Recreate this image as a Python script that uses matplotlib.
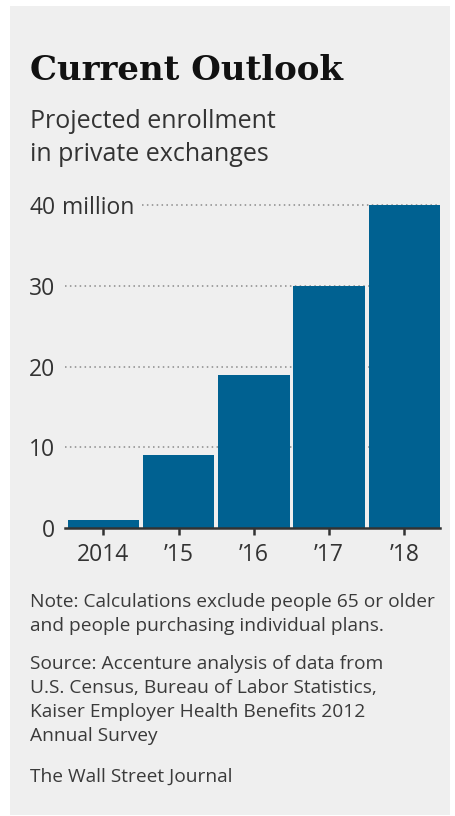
import matplotlib
matplotlib.use("Agg")
import matplotlib.pyplot as plt
from matplotlib.patches import Rectangle

# Chart data
years = ["2014", "\u201915", "\u201916", "\u201917", "\u201918"]
enrollment = [1, 9, 19, 30, 40]  # millions
y_ticks = [0, 10, 20, 30, 40]
y_tick_labels = ["0", "10", "20", "30", "40"]

W, H = 456, 816
bar_color = "#006191"
panel_color = "#efefef"
sans = ["Open Sans", "DejaVu Sans"]

fig = plt.figure(figsize=(W / 100, H / 100), dpi=100)
fig.patch.set_facecolor("white")


def fy(px):
    # pixel row from top -> figure fraction
    return 1 - px / H


# Gray panel behind everything
fig.patches.append(Rectangle((10 / W, fy(815)), 440 / W, (815 - 6) / H,
                             transform=fig.transFigure, facecolor=panel_color,
                             edgecolor="none", zorder=-5))

# Title block
fig.text(30 / W, fy(80), "Current Outlook", family="DejaVu Serif", weight="bold",
         fontsize=24.5, color="#111111", va="baseline", ha="left")
fig.text(30 / W, fy(128), "Projected enrollment", family=sans, fontsize=18,
         color="#333333", va="baseline", ha="left")
fig.text(30 / W, fy(161), "in private exchanges", family=sans, fontsize=18,
         color="#333333", va="baseline", ha="left")

# Plot area
ax_left, ax_right, ax_top, ax_bottom = 65, 440, 197, 528
ax = fig.add_axes([ax_left / W, fy(ax_bottom), (ax_right - ax_left) / W,
                   (ax_bottom - ax_top) / H])
ax.set_facecolor("none")

x = list(range(len(years)))
ax.bar(x, enrollment, width=0.95, color=bar_color, zorder=3)
ax.set_xlim(-0.51, 4.475)
ax.set_ylim(0, 41)

# dotted gridlines; the top one starts after the "million" label
for v in y_ticks[1:]:
    start = 0.205 if v == 40 else 0.0
    ax.axhline(v, xmin=start, xmax=1, color="#8a8a8a", linestyle=(0, (1, 2.2)),
               linewidth=1.1, zorder=1)

for side in ["top", "right", "left"]:
    ax.spines[side].set_visible(False)
ax.spines["bottom"].set_color("#333333")
ax.spines["bottom"].set_linewidth(1.8)
ax.spines["bottom"].set_zorder(4)

ax.set_xticks(x)
ax.set_xticklabels(years, family=sans, fontsize=16.5, color="#333333")
ax.set_yticks(y_ticks)
ax.set_yticklabels(y_tick_labels, family=sans, fontsize=16.5, color="#333333")
ax.tick_params(axis="x", direction="out", length=5, width=1.8, color="#333333", pad=6)
ax.tick_params(axis="y", length=0, pad=7)

ax.text(-0.008, 40, "million", transform=ax.get_yaxis_transform(), family=sans,
        fontsize=16.5, color="#333333", ha="left", va="center_baseline")

# Notes and credits
notes = [
    (607, "Note: Calculations exclude people 65 or older"),
    (631, "and people purchasing individual plans."),
    (669, "Source: Accenture analysis of data from"),
    (693, "U.S. Census, Bureau of Labor Statistics,"),
    (717, "Kaiser Employer Health Benefits 2012"),
    (741, "Annual Survey"),
    (782, "The Wall Street Journal"),
]
for base, line in notes:
    fig.text(30 / W, fy(base), line, family=sans, fontsize=13.8, color="#3a3a3a",
             va="baseline", ha="left")

fig.savefig("out.png", dpi=100, facecolor=fig.get_facecolor())
